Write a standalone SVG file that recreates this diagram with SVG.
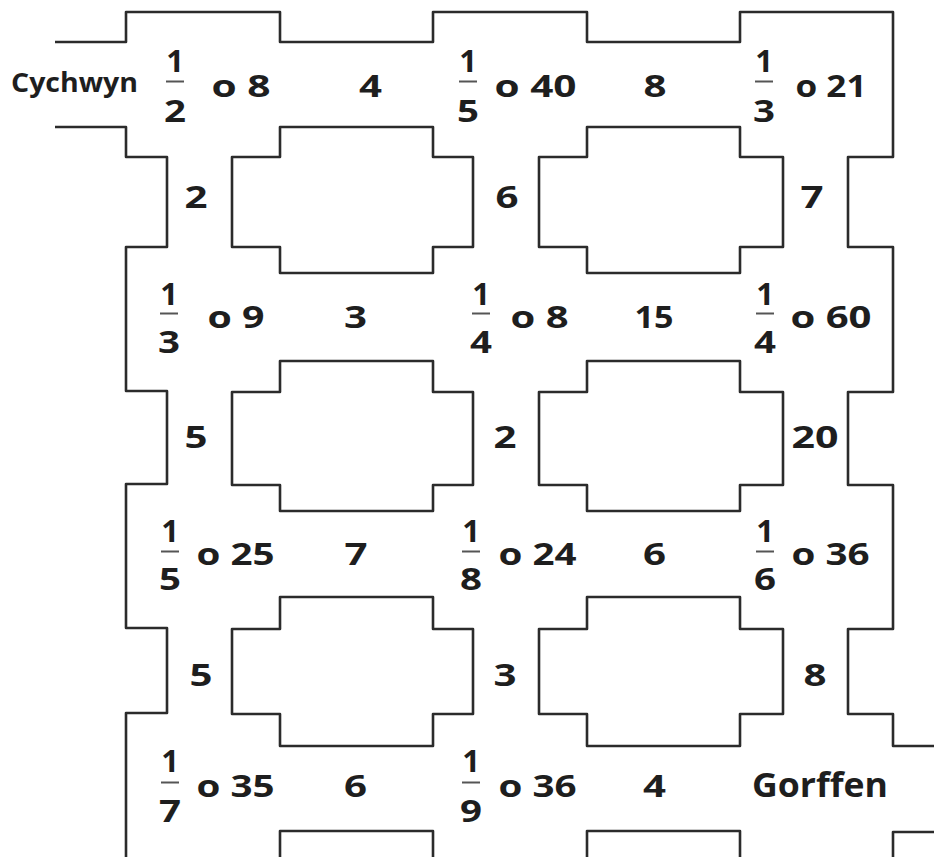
<svg xmlns="http://www.w3.org/2000/svg" width="934" height="857" viewBox="0 0 934 857">
<style>
.wall{fill:none;stroke:#2b2b2b;stroke-width:2.6;stroke-linejoin:round;stroke-linecap:butt}
.t{font-family:"Open Sans","DejaVu Sans",sans-serif;font-weight:700;font-size:31px;fill:#1e1e1e;text-anchor:middle}
.w{font-size:26px}
.g{font-size:34px}
.bar{stroke:#555;stroke-width:2}
</style>
<rect width="934" height="857" fill="#fff"/>
<g id="walls">
<path class="wall" d="M55,42 H126 V12 H280 V42 H433 V12 H587 V42 H740 V12 H893 V157 H848 V247 H893 V392 H848 V485 H893 V629 H848 V714 H893 V746 H934"/>
<path class="wall" d="M55,127 H126 V157 H167 V247 H126 V391 H167 V484 H126 V628 H167 V713 H126 V857"/>
<path id="island-a1" class="wall" d="M280,127 H433 V157 H473 V247 H433 V273 H280 V247 H232 V157 H280 Z"/>
<path id="island-a2" class="wall" d="M587,127 H740 V157 H783 V247 H740 V273 H587 V247 H539 V157 H587 Z"/>
<path id="island-b1" class="wall" d="M280,361 H433 V392 H473 V485 H433 V511 H280 V485 H232 V392 H280 Z"/>
<path id="island-b2" class="wall" d="M587,361 H740 V392 H783 V485 H740 V511 H587 V485 H539 V392 H587 Z"/>
<path id="island-c1" class="wall" d="M280,597 H433 V629 H473 V714 H433 V746 H280 V714 H232 V629 H280 Z"/>
<path id="island-c2" class="wall" d="M587,597 H740 V629 H783 V714 H740 V746 H587 V714 H539 V629 H587 Z"/>
<path class="wall" d="M280,860 V831 H433 V860"/>
<path class="wall" d="M587,860 V831 H740 V860"/>
<path class="wall" d="M934,832 H893 V860"/>
</g>

<g id="start"><text class="t w" x="74.5" y="92" textLength="127" lengthAdjust="spacingAndGlyphs">Cychwyn</text></g>

<!-- Row 1 -->
<g id="n-r1c1">
<text class="t" x="175" y="72">1</text><line class="bar" x1="166" y1="81.5" x2="184" y2="81.5"/><text class="t" x="175" y="122" textLength="22" lengthAdjust="spacingAndGlyphs">2</text>
<text class="t" x="241" y="97" textLength="59" lengthAdjust="spacingAndGlyphs">o 8</text>
</g>
<g id="e-r1a"><text class="t" x="370.5" y="97" textLength="23" lengthAdjust="spacingAndGlyphs">4</text></g>
<g id="n-r1c2">
<text class="t" x="468" y="72">1</text><line class="bar" x1="459" y1="81.5" x2="477" y2="81.5"/><text class="t" x="468" y="122" textLength="22" lengthAdjust="spacingAndGlyphs">5</text>
<text class="t" x="535.5" y="97" textLength="82" lengthAdjust="spacingAndGlyphs">o 40</text>
</g>
<g id="e-r1b"><text class="t" x="655" y="97" textLength="23" lengthAdjust="spacingAndGlyphs">8</text></g>
<g id="n-r1c3">
<text class="t" x="764" y="72">1</text><line class="bar" x1="755" y1="81.5" x2="773" y2="81.5"/><text class="t" x="764" y="122" textLength="22" lengthAdjust="spacingAndGlyphs">3</text>
<text class="t" x="831" y="97" textLength="71" lengthAdjust="spacingAndGlyphs">o 21</text>
</g>

<!-- Vertical A -->
<g id="e-va1"><text class="t" x="196" y="208" textLength="23" lengthAdjust="spacingAndGlyphs">2</text></g>
<g id="e-va2"><text class="t" x="507" y="208" textLength="23" lengthAdjust="spacingAndGlyphs">6</text></g>
<g id="e-va3"><text class="t" x="812" y="208" textLength="23" lengthAdjust="spacingAndGlyphs">7</text></g>

<!-- Row 2 -->
<g id="n-r2c1">
<text class="t" x="169" y="305">1</text><line class="bar" x1="160" y1="313.5" x2="178" y2="313.5"/><text class="t" x="169" y="353" textLength="22" lengthAdjust="spacingAndGlyphs">3</text>
<text class="t" x="236" y="328" textLength="57" lengthAdjust="spacingAndGlyphs">o 9</text>
</g>
<g id="e-r2a"><text class="t" x="355.5" y="328" textLength="23" lengthAdjust="spacingAndGlyphs">3</text></g>
<g id="n-r2c2">
<text class="t" x="481" y="305">1</text><line class="bar" x1="472" y1="313.5" x2="490" y2="313.5"/><text class="t" x="481" y="353" textLength="22" lengthAdjust="spacingAndGlyphs">4</text>
<text class="t" x="539.5" y="328" textLength="58" lengthAdjust="spacingAndGlyphs">o 8</text>
</g>
<g id="e-r2b"><text class="t" x="654" y="328" textLength="39" lengthAdjust="spacingAndGlyphs">15</text></g>
<g id="n-r2c3">
<text class="t" x="765" y="305">1</text><line class="bar" x1="756" y1="313.5" x2="774" y2="313.5"/><text class="t" x="765" y="353" textLength="22" lengthAdjust="spacingAndGlyphs">4</text>
<text class="t" x="831" y="328" textLength="81" lengthAdjust="spacingAndGlyphs">o 60</text>
</g>

<!-- Vertical B -->
<g id="e-vb1"><text class="t" x="196" y="448" textLength="23" lengthAdjust="spacingAndGlyphs">5</text></g>
<g id="e-vb2"><text class="t" x="505" y="448" textLength="23" lengthAdjust="spacingAndGlyphs">2</text></g>
<g id="e-vb3"><text class="t" x="815" y="448" textLength="47" lengthAdjust="spacingAndGlyphs">20</text></g>

<!-- Row 3 -->
<g id="n-r3c1">
<text class="t" x="170" y="542">1</text><line class="bar" x1="161" y1="551.5" x2="179" y2="551.5"/><text class="t" x="170" y="590" textLength="22" lengthAdjust="spacingAndGlyphs">5</text>
<text class="t" x="235.5" y="565" textLength="78" lengthAdjust="spacingAndGlyphs">o 25</text>
</g>
<g id="e-r3a"><text class="t" x="356" y="565" textLength="23" lengthAdjust="spacingAndGlyphs">7</text></g>
<g id="n-r3c2">
<text class="t" x="471" y="542">1</text><line class="bar" x1="462" y1="551.5" x2="480" y2="551.5"/><text class="t" x="471" y="590" textLength="22" lengthAdjust="spacingAndGlyphs">8</text>
<text class="t" x="537.5" y="565" textLength="78" lengthAdjust="spacingAndGlyphs">o 24</text>
</g>
<g id="e-r3b"><text class="t" x="654.5" y="565" textLength="23" lengthAdjust="spacingAndGlyphs">6</text></g>
<g id="n-r3c3">
<text class="t" x="765" y="542">1</text><line class="bar" x1="756" y1="551.5" x2="774" y2="551.5"/><text class="t" x="765" y="590" textLength="22" lengthAdjust="spacingAndGlyphs">6</text>
<text class="t" x="830.5" y="565" textLength="78" lengthAdjust="spacingAndGlyphs">o 36</text>
</g>

<!-- Vertical C -->
<g id="e-vc1"><text class="t" x="201" y="686" textLength="23" lengthAdjust="spacingAndGlyphs">5</text></g>
<g id="e-vc2"><text class="t" x="505" y="686" textLength="23" lengthAdjust="spacingAndGlyphs">3</text></g>
<g id="e-vc3"><text class="t" x="815" y="686" textLength="23" lengthAdjust="spacingAndGlyphs">8</text></g>

<!-- Row 4 -->
<g id="n-r4c1">
<text class="t" x="170" y="772">1</text><line class="bar" x1="161" y1="782.5" x2="179" y2="782.5"/><text class="t" x="170" y="822" textLength="22" lengthAdjust="spacingAndGlyphs">7</text>
<text class="t" x="235.5" y="797" textLength="78" lengthAdjust="spacingAndGlyphs">o 35</text>
</g>
<g id="e-r4a"><text class="t" x="355.5" y="797" textLength="23" lengthAdjust="spacingAndGlyphs">6</text></g>
<g id="n-r4c2">
<text class="t" x="471" y="772">1</text><line class="bar" x1="462" y1="782.5" x2="480" y2="782.5"/><text class="t" x="471" y="822" textLength="22" lengthAdjust="spacingAndGlyphs">9</text>
<text class="t" x="537.5" y="797" textLength="78" lengthAdjust="spacingAndGlyphs">o 36</text>
</g>
<g id="e-r4b"><text class="t" x="654.5" y="797" textLength="23" lengthAdjust="spacingAndGlyphs">4</text></g>
<g id="finish"><text class="t g" x="820" y="797" textLength="136" lengthAdjust="spacingAndGlyphs">Gorffen</text></g>
</svg>
